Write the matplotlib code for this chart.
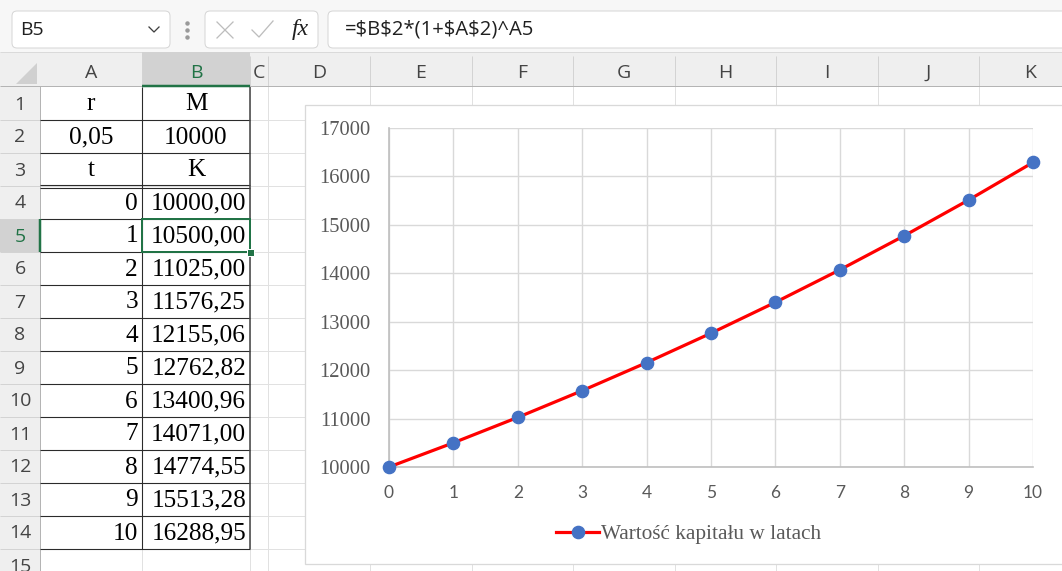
import matplotlib
matplotlib.use("Agg")
import matplotlib.pyplot as plt
from matplotlib.patches import Rectangle, FancyBboxPatch, Polygon
from matplotlib.font_manager import FontProperties

# ---- worksheet contents -------------------------------------------------
rate = 0.05
principal = 10000
years = [0, 1, 2, 3, 4, 5, 6, 7, 8, 9, 10]
capital = [10000.00, 10500.00, 11025.00, 11576.25, 12155.06, 12762.82,
           13400.96, 14071.00, 14774.55, 15513.28, 16288.95]
column_letters = ["A", "B", "C", "D", "E", "F", "G", "H", "I", "J", "K"]
y_ticks = [10000, 11000, 12000, 13000, 14000, 15000, 16000, 17000]
x_ticks = [0, 1, 2, 3, 4, 5, 6, 7, 8, 9, 10]
series_name = "Wartość kapitału w latach"
cell_ref = "B5"
formula = "=$B$2*(1+$A$2)^A5"


def pl(v, nd):
    """Polish decimal notation."""
    return f"{v:.{nd}f}".replace(".", ",")


# ---- canvas in pixel units ------------------------------------------------
W, H = 1062, 571
fig = plt.figure(figsize=(W / 100, H / 100), dpi=100)
bg = fig.add_axes([0, 0, 1, 1])
bg.set_xlim(0, W)
bg.set_ylim(H, 0)
bg.axis("off")

PX = 0.72  # one pixel in points
UI = "Open Sans"
SERIF = "Liberation Serif"
GREEN = "#217346"
HEAD_BG = "#EFEFEF"
SEL_BG = "#D2D2D2"
GRID = "#E1E1E1"


def hline(y, x0, x1, c, lw=1, z=2):
    bg.plot([x0, x1], [y, y], color=c, lw=lw * PX, zorder=z,
            solid_capstyle="butt")


def vline(x, y0, y1, c, lw=1, z=2):
    bg.plot([x, x], [y0, y1], color=c, lw=lw * PX, zorder=z,
            solid_capstyle="butt")


col_edges = [40, 142, 250, 268, 370, 472, 573, 675, 776, 878, 979, 1081]
row_top0, row_h = 87, 33
n_rows = 15


def row_top(r):
    return row_top0 + (r - 1) * row_h


# toolbar strip
bg.add_patch(Rectangle((0, 0), W, 52, fc="#F7F7F7", ec="none", zorder=0))
for (x0, x1) in [(12, 170), (205, 318), (328, 1075)]:
    bg.add_patch(FancyBboxPatch((x0, 11), x1 - x0, 37,
                                boxstyle="round,pad=0,rounding_size=5",
                                fc="white", ec="#D6D6D6", lw=1 * PX, zorder=1))
bg.text(20, 30, cell_ref, fontsize=14, family=UI, color="#202020",
        va="center", ha="left", zorder=3)
bg.plot([149, 154, 159], [27, 32, 27], color="#404040", lw=1.3 * PX, zorder=3)
for yy in (23, 30, 37):
    bg.plot(187, yy, "o", ms=2.2, color="#9A9A9A", zorder=3)
bg.plot([217, 233], [22, 38], color="#BDBDBD", lw=1.3 * PX, zorder=3)
bg.plot([217, 233], [38, 22], color="#BDBDBD", lw=1.3 * PX, zorder=3)
bg.plot([252, 259, 273], [30, 37, 21], color="#BDBDBD", lw=1.3 * PX, zorder=3)
bg.text(300, 30, "fx", fontsize=17, family=SERIF, style="italic",
        color="#202020", va="center", ha="center", zorder=3)
bg.text(345, 30, formula, fontsize=14.6, family=UI, color="#202020",
        va="center", ha="left", zorder=3, parse_math=False)

# column header band and row header column
bg.add_patch(Rectangle((0, 52), W, 34, fc=HEAD_BG, ec="none", zorder=0))
bg.add_patch(Rectangle((0, 86), 40, H - 86, fc=HEAD_BG, ec="none", zorder=0))
bg.add_patch(Rectangle((40, 86), W - 40, H - 86, fc="white", ec="none", zorder=0))
hline(52, 0, W, "#DADADA", 1, 1)
bg.add_patch(Polygon([(16, 84), (37, 84), (37, 63)], closed=True,
                     fc="#D0D0D0", ec="none", zorder=1))

# selected column / row headers
bg.add_patch(Rectangle((col_edges[1], 52), col_edges[2] - col_edges[1], 34,
                       fc=SEL_BG, ec="none", zorder=1))
bg.add_patch(Rectangle((0, row_top(5)), 40, row_h, fc=SEL_BG, ec="none", zorder=1))

for i, letter in enumerate(column_letters):
    x0, x1 = col_edges[i], col_edges[i + 1]
    vline(x1, 56, 86, "#D3D3D3", 1, 1)
    bg.text((x0 + x1) / 2, 73, letter, fontsize=14, family=UI,
            color=GREEN if letter == "B" else "#444444",
            ha="center", va="center", zorder=3)
for r in range(1, n_rows + 1):
    hline(row_top(r) + row_h, 0, 40, "#D3D3D3", 1, 1)
    bg.text(20, row_top(r) + row_h / 2 + 1, str(r), fontsize=14, family=UI,
            color=GREEN if r == 5 else "#444444",
            ha="center", va="center", zorder=3)

hline(86, 0, W, "#B4B4B4", 1, 2)
vline(40, 86, H, "#B4B4B4", 1, 2)
hline(86, col_edges[1], col_edges[2], GREEN, 2.5, 3)
vline(40, row_top(5), row_top(5) + row_h, GREEN, 2.5, 3)

# light cell gridlines
for r in range(1, n_rows + 1):
    hline(row_top(r) + row_h, 40, W, GRID, 1, 1)
for x in col_edges[1:]:
    vline(x, 86, H, GRID, 1, 1)

# cell contents
xa0, xa1, xb0, xb1 = col_edges[0], col_edges[1], col_edges[1], col_edges[2]
FS = 18.2


def cell(r, x, s, ha):
    bg.text(x, row_top(r) + row_h / 2 + 1, s, fontsize=FS, family=SERIF,
            color="black", ha=ha, va="center", zorder=3)


cell(1, (xa0 + xa1) / 2, "r", "center")
cell(1, (xb0 + xb1) / 2, "M", "center")
cell(2, (xa0 + xa1) / 2, pl(rate, 2), "center")
cell(2, (xb0 + xb1) / 2, str(principal), "center")
cell(3, (xa0 + xa1) / 2, "t", "center")
cell(3, (xb0 + xb1) / 2, "K", "center")
for k, (t, v) in enumerate(zip(years, capital)):
    cell(4 + k, xa1 - 4, str(t), "right")
    cell(4 + k, xb1 - 4, pl(v, 2), "right")

# table borders
BD = "#2B2B2B"
for r in range(1, 15):
    if r == 3:
        continue
    hline(row_top(r) + row_h, xa0, xb1, BD, 1.1, 2)
hline(row_top(3) + row_h - 1.5, xa0, xb1, BD, 1.1, 2)
hline(row_top(3) + row_h + 1.5, xa0, xb1, BD, 1.1, 2)
vline(xa1, row_top(1), row_top(14) + row_h, BD, 1.1, 2)
vline(xb1, row_top(1), row_top(14) + row_h, "#4A4A4A", 1.6, 2)

# active cell B5
bg.add_patch(Rectangle((xb0, row_top(5)), xb1 - xb0, row_h, fc="none",
                       ec=GREEN, lw=2 * PX, zorder=4))
bg.add_patch(Rectangle((xb1 - 3, row_top(6) - 3), 6.5, 6.5, fc=GREEN,
                       ec="white", lw=1 * PX, zorder=5))

# ---- embedded chart --------------------------------------------------------
bg.add_patch(Rectangle((305, 105), 800, 459, fc="white", ec="#D9D9D9",
                       lw=1.3 * PX, zorder=6))

L, R, T, B = 389, 1033, 128, 467
ax = fig.add_axes([L / W, 1 - B / H, (R - L) / W, (B - T) / H])
ax.set_zorder(3)
ax.patch.set_alpha(0)
line, = ax.plot(years, capital, color="#FF0000", lw=2.3, marker="o",
                ms=8.8, mfc="#4472C4", mec="#4472C4", clip_on=False,
                zorder=4, label=series_name)
ax.set_xlim(0, 10)
ax.set_ylim(10000, 17000)
ax.set_xticks(x_ticks)
ax.set_yticks(y_ticks)
ax.grid(True, color="#D9D9D9", lw=1.0)
ax.set_axisbelow(True)
for s in ("top", "right"):
    ax.spines[s].set_visible(False)
for s in ("left", "bottom"):
    ax.spines[s].set_color("#BFBFBF")
    ax.spines[s].set_linewidth(1.2)
ax.tick_params(axis="y", length=0, pad=13, labelcolor="#595959",
               labelsize=14.8)
ax.tick_params(axis="x", length=0, pad=13, labelcolor="#595959",
               labelsize=12.5)
for lab in ax.get_yticklabels():
    lab.set_family(SERIF)
for lab in ax.get_xticklabels():
    lab.set_family("Lato")

ax.legend(handles=[line], labels=[series_name], loc="center",
          bbox_to_anchor=(689 / W, 1 - 534 / H), bbox_transform=fig.transFigure,
          frameon=False, prop=FontProperties(family=SERIF, size=15.3),
          handlelength=2.0, handletextpad=0.12, labelcolor="#595959")

fig.savefig("out.png", dpi=100)
